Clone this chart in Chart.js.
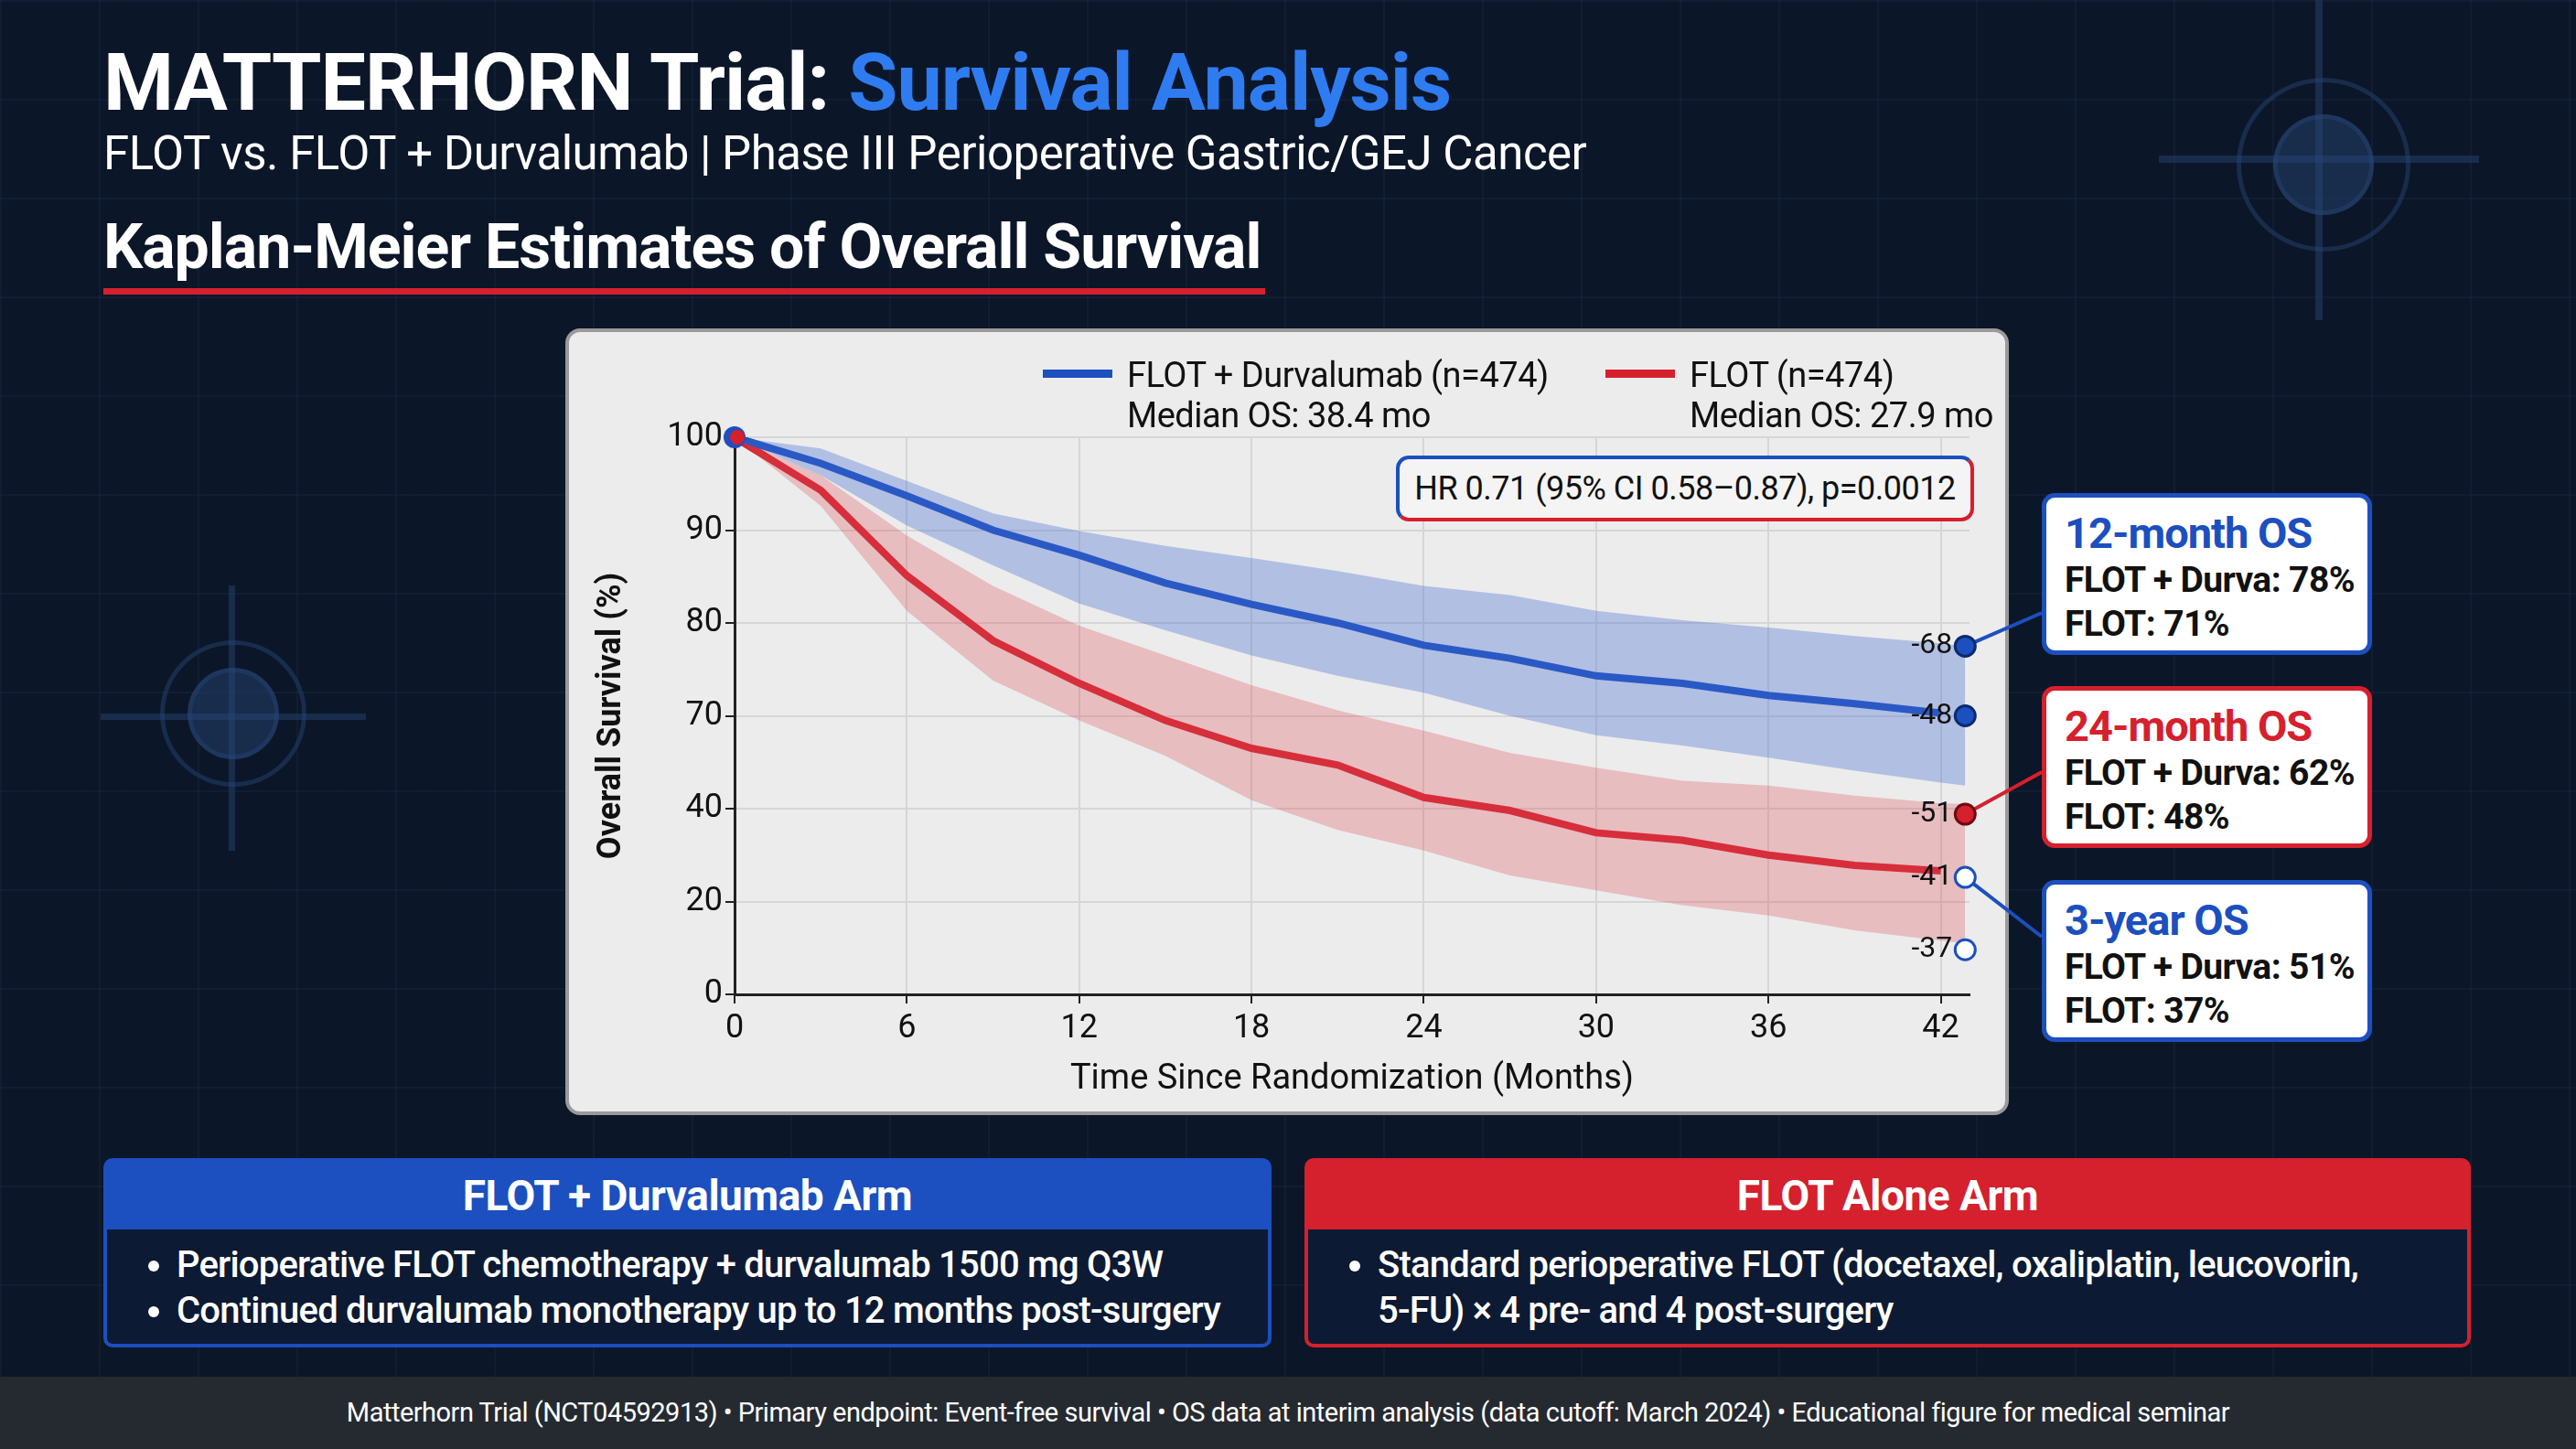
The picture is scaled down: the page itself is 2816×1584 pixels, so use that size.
<!DOCTYPE html>
<html><head><meta charset="utf-8">
<script src="https://cdn.jsdelivr.net/npm/chart.js@4.4.1/dist/chart.umd.min.js"></script>
<style>
html,body{margin:0;padding:0;width:2816px;height:1584px;overflow:hidden;background:#0b1628;font-family:Roboto,"Noto Sans",sans-serif;}
#bg{position:absolute;left:0;top:0;width:2816px;height:1584px;
background-image:linear-gradient(rgba(60,90,140,0.10) 2px,transparent 2px),linear-gradient(90deg,rgba(60,90,140,0.10) 2px,transparent 2px);
background-size:108px 108px;}
.abs{position:absolute;}
.tgt{position:absolute;border-radius:50%;border:5px solid rgba(40,70,120,0.45);}
.tl{position:absolute;background:rgba(40,70,120,0.45);}
#title{left:113px;top:38px;font-size:88px;font-weight:700;color:#fff;letter-spacing:-1px;}
#title span{color:#2f7cf0;}
#sub{left:113px;top:138px;font-size:51px;color:#fff;letter-spacing:-0.5px;}
#sec{left:113px;top:230px;font-size:68px;font-weight:700;color:#fff;letter-spacing:-1px;}
#secline{left:113px;top:315px;width:1270px;height:7px;background:#d5202d;}
#panel{left:618px;top:359px;width:1578px;height:860px;background:#ececec;border-radius:16px;border:4px solid #9a9a9a;box-sizing:border-box;}
#c{position:absolute;left:0;top:0;}
.leg{position:absolute;font-size:38px;color:#111;line-height:44px;letter-spacing:-0.5px;}
.leg i{position:absolute;left:-92px;top:16px;width:76px;height:9px;}
#hr{left:1526px;top:498px;width:632px;height:72px;border-radius:14px;box-sizing:border-box;border:4px solid;border-color:#1c4fbf #d5202d #d5202d #1c4fbf;background:#f4f4f4;font-size:36px;color:#111;line-height:64px;text-align:center;letter-spacing:-0.5px;}
.box{position:absolute;left:2232px;width:361px;height:177px;background:#fff;border-radius:14px;border:5px solid;box-sizing:border-box;padding:12px 20px;}
.box h3{margin:0;font-size:47px;font-weight:700;line-height:54px;letter-spacing:-1px;white-space:nowrap;}
.box p{margin:0;font-size:39px;font-weight:700;line-height:48px;color:#111;letter-spacing:-0.6px;white-space:nowrap;}
.arm{position:absolute;top:1266px;height:207px;box-sizing:border-box;border:4px solid;border-radius:10px;background:#0d1a33;}
.arm .hd{height:74px;color:#fff;font-size:46px;font-weight:700;text-align:center;line-height:74px;letter-spacing:-0.5px;}
.arm ul{margin:14px 0 0 0;padding-left:76px;color:#fff;font-size:40px;font-weight:500;line-height:50px;letter-spacing:-0.8px;white-space:nowrap;}
#foot{left:0;top:1505px;width:2816px;height:79px;background:#252a31;color:#fff;font-size:29px;text-align:center;line-height:79px;letter-spacing:-0.5px;}
</style></head><body>
<div id="bg"></div>
<div class="tgt" style="left:175px;top:700px;width:150px;height:150px"></div>
<div class="tgt" style="left:205px;top:730px;width:90px;height:90px;background:rgba(40,70,120,0.45)"></div>
<div class="tl" style="left:110px;top:780px;width:290px;height:7px"></div>
<div class="tl" style="left:250px;top:640px;width:7px;height:290px"></div>
<div class="tgt" style="left:2445px;top:85px;width:180px;height:180px"></div>
<div class="tgt" style="left:2485px;top:125px;width:100px;height:100px;background:rgba(40,70,120,0.45)"></div>
<div class="tl" style="left:2360px;top:170px;width:350px;height:8px"></div>
<div class="tl" style="left:2531px;top:0px;width:8px;height:350px"></div>

<div id="title" class="abs">MATTERHORN Trial: <span>Survival Analysis</span></div>
<div id="sub" class="abs">FLOT vs. FLOT + Durvalumab | Phase III Perioperative Gastric/GEJ Cancer</div>
<div id="sec" class="abs">Kaplan-Meier Estimates of Overall Survival</div>
<div id="secline" class="abs"></div>
<div id="panel" class="abs"></div>
<canvas id="c" width="2816" height="1584"></canvas>
<div class="leg" style="left:1232px;top:388px"><i style="background:#1c4fbf"></i>FLOT + Durvalumab (n=474)<br>Median OS: 38.4 mo</div>
<div class="leg" style="left:1847px;top:388px"><i style="background:#d5202d"></i>FLOT (n=474)<br>Median OS: 27.9 mo</div>
<div id="hr" class="abs">HR 0.71 (95% CI 0.58–0.87), p=0.0012</div>

<div class="box" style="top:539px;border-color:#1c4fbf"><h3 style="color:#1c4fbf">12-month OS</h3><p>FLOT + Durva: 78%</p><p>FLOT: 71%</p></div>
<div class="box" style="top:750px;border-color:#d5202d"><h3 style="color:#d5202d">24-month OS</h3><p>FLOT + Durva: 62%</p><p>FLOT: 48%</p></div>
<div class="box" style="top:962px;border-color:#1c4fbf"><h3 style="color:#1c4fbf">3-year OS</h3><p>FLOT + Durva: 51%</p><p>FLOT: 37%</p></div>

<div class="arm" style="left:113px;width:1277px;border-color:#1c4fbf"><div class="hd" style="background:#1c4fbf">FLOT + Durvalumab Arm</div>
<ul><li>Perioperative FLOT chemotherapy + durvalumab 1500 mg Q3W</li><li>Continued durvalumab monotherapy up to 12 months post-surgery</li></ul></div>
<div class="arm" style="left:1426px;width:1275px;border-color:#d5202d"><div class="hd" style="background:#d5202d">FLOT Alone Arm</div>
<ul><li>Standard perioperative FLOT (docetaxel, oxaliplatin, leucovorin,<br>5-FU) × 4 pre- and 4 post-surgery</li></ul></div>
<div id="foot" class="abs">Matterhorn Trial (NCT04592913) • Primary endpoint: Event-free survival • OS data at interim analysis (data cutoff: March 2024) • Educational figure for medical seminar</div>

<script>
// y values are in tick-position units (axis labels are unevenly spaced)
const months = [0,3,6,9,12,15,18,21,24,27,30,33,36,39,42,42.85];
const yTickLabels = ["0","20","40","70","80","90","100"];
const xTicks = [0,6,12,18,24,30,36,42];
const durva = [6,5.72,5.37,5.0,4.73,4.43,4.2,4.0,3.76,3.62,3.43,3.35,3.22,3.13,3.03,3.03];
const durvaUpper = [6,5.88,5.53,5.18,4.99,4.83,4.7,4.56,4.4,4.3,4.13,4.03,3.95,3.86,3.78,3.75];
const durvaLower = [6,5.59,5.05,4.62,4.21,3.92,3.65,3.43,3.25,3.0,2.79,2.68,2.55,2.41,2.28,2.25];
const flot = [6,5.43,4.51,3.81,3.35,2.95,2.65,2.47,2.12,1.98,1.74,1.66,1.5,1.39,1.33,1.33];
const flotUpper = [6,5.59,4.94,4.4,3.97,3.65,3.33,3.06,2.84,2.6,2.44,2.3,2.25,2.14,2.06,2.05];
const flotLower = [6,5.26,4.13,3.38,2.95,2.57,2.09,1.77,1.55,1.28,1.12,0.96,0.85,0.69,0.58,0.55];
const markerX = 42.85;
const markerY = [3.75,3.0,1.94,1.26,0.48];
const markerLabels = ["-68","-48","-51","-41","-37"];
const markerFill = ["#1c4fbf","#1c4fbf","#d5202d","#ffffff","#ffffff"];
const markerStroke = ["#0b2a6e","#0b2a6e","#6e0b12","#1c4fbf","#1c4fbf"];
const connectTo = [[2232,670],[2232,844],[2232,1024]]; // box edges
const connectFrom = [0,2,3];
const connectColor = ["#1c4fbf","#d5202d","#1c4fbf"];

const pts = a => months.map((m,i)=>({x:m,y:a[i]}));
const overlay = {
  id:'overlay',
  afterDatasetsDraw(chart){
    const {ctx,scales:{x,y}} = chart;
    ctx.save();
    connectFrom.forEach((mi,k)=>{
      ctx.strokeStyle = connectColor[k]; ctx.lineWidth = 4;
      ctx.beginPath(); ctx.moveTo(x.getPixelForValue(markerX), y.getPixelForValue(markerY[mi]));
      ctx.lineTo(connectTo[k][0], connectTo[k][1]); ctx.stroke();
    });
    markerY.forEach((v,i)=>{
      const px = x.getPixelForValue(markerX), py = y.getPixelForValue(v);
      ctx.font = '32px Roboto'; ctx.fillStyle = '#111'; ctx.textAlign='right'; ctx.textBaseline='middle';
      ctx.fillText(markerLabels[i], px-14, py);
      ctx.beginPath(); ctx.arc(px,py,11,0,Math.PI*2);
      ctx.fillStyle = markerFill[i]; ctx.fill();
      ctx.lineWidth = 3; ctx.strokeStyle = markerStroke[i]; ctx.stroke();
    });
    const px=x.getPixelForValue(0), py=y.getPixelForValue(6);
    ctx.beginPath(); ctx.arc(px,py,12,0,Math.PI*2); ctx.fillStyle='#1c4fbf'; ctx.fill();
    ctx.beginPath(); ctx.arc(px+3,py,8,0,Math.PI*2); ctx.fillStyle='#d5202d'; ctx.fill();
    ctx.restore();
  }
};
new Chart(document.getElementById('c'),{
  type:'line',
  data:{datasets:[
    {data:pts(durvaUpper),borderWidth:0,pointRadius:0,fill:'+1',backgroundColor:'rgba(70,110,210,0.35)'},
    {data:pts(durvaLower),borderWidth:0,pointRadius:0,fill:false},
    {data:pts(flotUpper),borderWidth:0,pointRadius:0,fill:'+1',backgroundColor:'rgba(220,80,90,0.30)'},
    {data:pts(flotLower),borderWidth:0,pointRadius:0,fill:false},
    {data:pts(durva).slice(0,15),borderColor:'#1c4fbf',borderWidth:8,pointRadius:0,fill:false},
    {data:pts(flot).slice(0,15),borderColor:'#d5202d',borderWidth:8,pointRadius:0,fill:false}
  ]},
  options:{
    responsive:false,animation:false,
    layout:{padding:{left:643,right:663,top:478,bottom:377}},
    plugins:{legend:{display:false},tooltip:{enabled:false}},
    scales:{
      x:{type:'linear',min:0,max:43,
        afterBuildTicks:s=>{s.ticks=xTicks.map(v=>({value:v}));},
        afterFit:s=>{s.height=120;},
        grid:{color:'#d6d6d6',lineWidth:2,tickColor:'#222',tickLength:10},
        border:{color:'#222',width:3},
        ticks:{color:'#111',font:{size:36,family:'Roboto'},padding:6},
        title:{display:true,text:'Time Since Randomization (Months)',color:'#111',font:{size:38,family:'Roboto'},padding:{top:4}}},
      y:{min:0,max:6,
        afterBuildTicks:s=>{s.ticks=yTickLabels.map((l,i)=>({value:i}));},
        afterFit:s=>{s.width=160;},
        grid:{color:'#d6d6d6',lineWidth:2,tickColor:'#222',tickLength:10},
        border:{color:'#222',width:3},
        ticks:{color:'#111',font:{size:36,family:'Roboto'},callback:(v)=>yTickLabels[v]},
        title:{display:true,text:'Overall Survival (%)',color:'#111',font:{size:36,weight:'bold',family:'Roboto'},padding:{bottom:20}}}
    }
  },
  plugins:[overlay]
});
</script>
</body></html>
